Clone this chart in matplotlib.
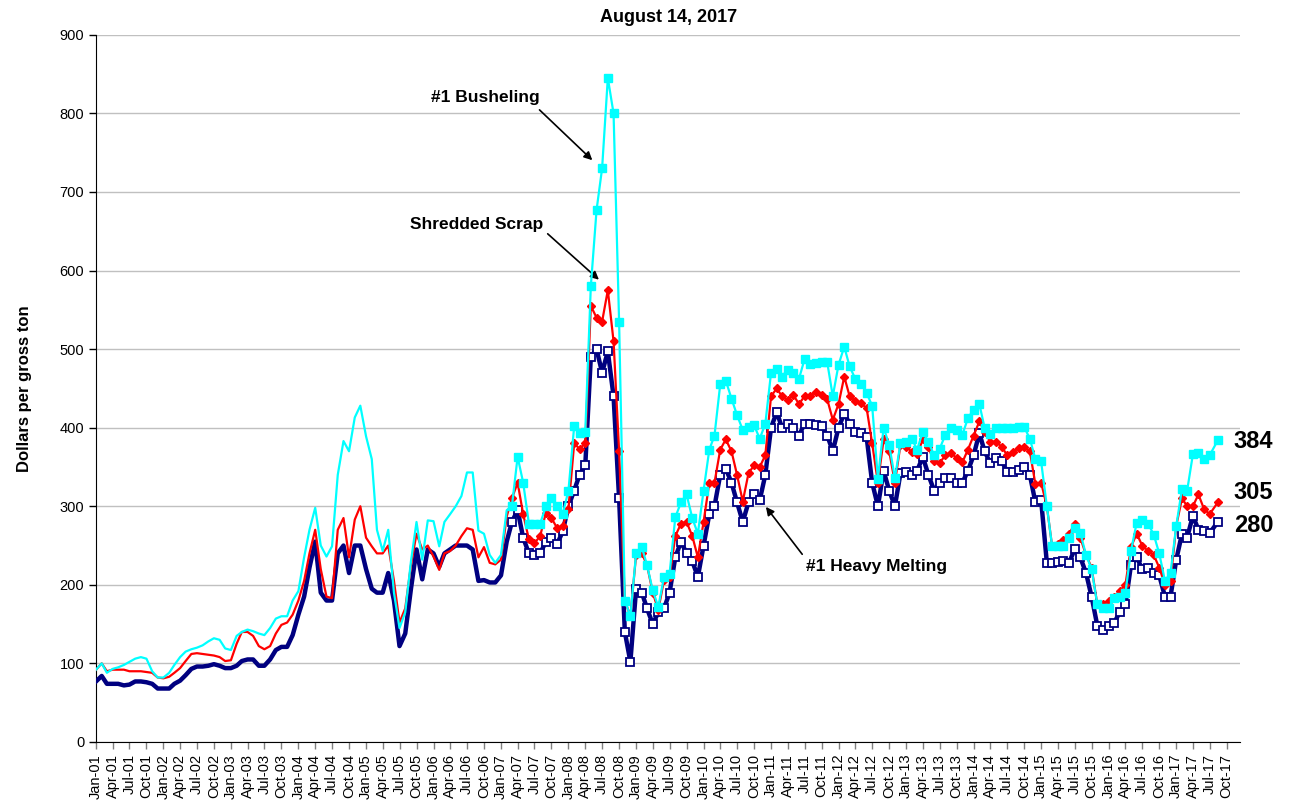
import numpy as np
import pandas as pd
import matplotlib
matplotlib.use('Agg')
from matplotlib import pyplot as plt
import matplotlib.dates as mdates

plt.rcParams['font.family'] = ['Liberation Sans', 'DejaVu Sans']

# monthly readings Jan-01 .. Jul-17, last point is the Aug 14, 2017 price
dates = list(pd.date_range('2001-01-01', '2017-07-01', freq='MS')) + [pd.Timestamp('2017-08-14')]

heavy_melting = [
    77, 84, 74, 74, 74, 72, 73, 77, 77, 76, 74, 68,
    68, 68, 74, 78, 85, 93, 96, 96, 97, 99, 97, 94,
    94, 97, 103, 105, 105, 97, 97, 105, 117, 121, 121, 136,
    162, 185, 222, 255, 190, 180, 180, 240, 250, 215, 250, 250,
    220, 195, 190, 190, 215, 180, 122, 138, 195, 245, 207, 245,
    240, 223, 240, 245, 250, 250, 250, 245, 205, 206, 203, 203,
    212, 255, 280, 295, 260, 240, 238, 240, 255, 260, 252, 268,
    300, 320, 340, 352, 490, 500, 470, 497, 440, 310, 140, 102,
    195, 190, 170, 150, 165, 170, 190, 235, 255, 240, 230, 210,
    250, 290, 300, 340, 348, 330, 305, 280, 305, 315, 308, 340,
    400, 420, 400, 405, 400, 390, 405, 405, 403, 402, 390, 370,
    400, 418, 405, 395, 393, 388, 330, 300, 345, 320, 300, 342,
    344, 340, 345, 363, 340, 320, 330, 336, 336, 330, 330, 345,
    365, 393, 370, 355, 362, 358, 344, 344, 346, 350, 340, 305,
    308, 228, 228, 229, 230, 228, 245, 235, 215, 185, 148, 142,
    148, 152, 165, 175, 225, 235, 220, 222, 215, 212, 185, 185,
    232, 265, 260, 288, 270, 268, 266, 280,
]

shredded = [
    92, 100, 90, 92, 92, 92, 90, 90, 90, 89, 88, 82,
    81, 83, 88, 94, 103, 112, 113, 112, 111, 110, 108, 103,
    104, 125, 140, 140, 135, 122, 118, 122, 138, 149, 152, 162,
    180, 205, 240, 270, 220, 185, 183, 270, 285, 235, 283, 300,
    260, 249, 240, 240, 250, 205, 152, 170, 225, 265, 245, 250,
    236, 219, 240, 243, 250, 262, 272, 270, 235, 248, 228, 226,
    232, 287, 310, 330, 290, 258, 253, 262, 292, 285, 272, 275,
    297, 380, 373, 380, 555, 540, 535, 575, 510, 370, 180, 160,
    238, 240, 225, 190, 168, 206, 210, 262, 278, 280, 262, 235,
    280, 330, 330, 372, 385, 370, 340, 306, 342, 352, 350, 365,
    440, 450, 440, 435, 442, 430, 440, 440, 446, 442, 436, 410,
    430, 465, 440, 434, 431, 425, 380, 330, 385, 370, 330, 378,
    376, 369, 366, 385, 375, 357, 355, 365, 368, 361, 356, 372,
    390, 408, 395, 382, 382, 376, 365, 369, 374, 375, 370, 328,
    330, 300, 250, 252, 257, 265, 277, 260, 238, 222, 175, 175,
    180, 185, 192, 200, 248, 265, 250, 243, 238, 222, 200, 205,
    275, 310, 300, 300, 315, 296, 290, 305,
]

busheling = [
    92, 100, 88, 93, 95, 98, 102, 106, 108, 106, 90, 82,
    82, 88, 98, 108, 115, 118, 120, 123, 128, 132, 130, 119,
    117, 135, 140, 143, 141, 138, 136, 145, 157, 160, 160, 180,
    192, 235, 270, 298, 250, 236, 249, 340, 383, 370, 413, 428,
    389, 360, 270, 243, 270, 190, 145, 165, 230, 280, 232, 282,
    281, 249, 280, 290, 300, 313, 343, 343, 269, 265, 238, 228,
    238, 295, 300, 363, 330, 278, 277, 278, 300, 310, 300, 290,
    320, 402, 393, 395, 580, 677, 730, 845, 800, 535, 180, 160,
    240, 248, 225, 193, 172, 210, 214, 286, 305, 315, 285, 265,
    320, 372, 390, 455, 460, 437, 416, 397, 401, 403, 386, 405,
    470, 475, 465, 474, 469, 462, 487, 481, 482, 484, 483, 440,
    480, 503, 478, 462, 456, 444, 428, 335, 400, 378, 336, 380,
    382, 386, 372, 395, 382, 365, 373, 391, 399, 397, 391, 412,
    423, 430, 400, 392, 399, 399, 399, 399, 401, 401, 386, 360,
    357, 300, 250, 250, 250, 260, 272, 266, 238, 220, 175, 170,
    171, 183, 185, 190, 243, 279, 282, 278, 264, 240, 205, 215,
    275, 322, 320, 366, 368, 360, 365, 384,
]

# markers only drawn from early 2007 on, like the weekly part of the source chart
marked = [d >= pd.Timestamp('2007-03-01') for d in dates]

fig = plt.figure(figsize=(12.9, 8.1), dpi=100)
ax = fig.add_axes([0.0744, 0.084, 0.887, 0.873])

ax.plot(dates, heavy_melting, color='#000080', lw=3.2, marker='s', ms=5.4,
        mfc='white', mec='#000080', mew=1.3, markevery=marked, zorder=3)
ax.plot(dates, shredded, color='#ff0000', lw=1.6, marker='D', ms=4.4,
        mfc='#ff0000', mec='#ff0000', markevery=marked, zorder=4)
ax.plot(dates, busheling, color='#00ffff', lw=1.6, marker='s', ms=6.4,
        mfc='#00ffff', mec='#00ffff', markevery=marked, zorder=5)

ax.set_ylim(0, 900)
ax.set_yticks(range(0, 901, 100))
ax.set_xlim(pd.Timestamp('2001-01-01'), pd.Timestamp('2017-12-13'))
ax.xaxis.set_major_locator(mdates.MonthLocator(bymonth=[1, 4, 7, 10]))
ax.xaxis.set_major_formatter(mdates.DateFormatter('%b-%y'))
plt.setp(ax.get_xticklabels(), rotation=90, fontsize=10.5)
plt.setp(ax.get_yticklabels(), fontsize=10.5)
ax.tick_params(axis='both', direction='out', length=5, width=1, color='#808080')
ax.tick_params(axis='y', color='black')

ax.grid(axis='y', color='#c0c0c0', lw=1)
ax.set_axisbelow(True)
for s in ['top', 'right']:
    ax.spines[s].set_visible(False)

ax.set_ylabel('Dollars per gross ton', fontsize=12, fontweight='bold', labelpad=20)
ax.set_title('August 14, 2017', fontsize=13, fontweight='bold', pad=9)

arrow = dict(arrowstyle='-|>', color='black', lw=1.2, mutation_scale=12)
ax.annotate('#1 Busheling', xy=(pd.Timestamp('2008-05-20'), 738),
            xytext=(pd.Timestamp('2006-10-10'), 820), ha='center', va='center',
            fontsize=12.5, fontweight='bold',
            arrowprops=dict(arrow, relpos=(0.95, 0.0)))
ax.annotate('Shredded Scrap', xy=(pd.Timestamp('2008-06-25'), 586),
            xytext=(pd.Timestamp('2006-08-20'), 658), ha='center', va='center',
            fontsize=12.5, fontweight='bold',
            arrowprops=dict(arrow, relpos=(1.0, 0.2)))
ax.annotate('#1 Heavy Melting', xy=(pd.Timestamp('2010-11-25'), 302),
            xytext=(pd.Timestamp('2012-07-25'), 223), ha='center', va='center',
            fontsize=12.5, fontweight='bold',
            arrowprops=dict(arrow, relpos=(0.0, 1.0)))

label_x = pd.Timestamp('2017-11-08')
ax.text(label_x, 382, str(busheling[-1]), fontsize=17, fontweight='bold', va='center', clip_on=False)
ax.text(label_x, 317, str(shredded[-1]), fontsize=17, fontweight='bold', va='center', clip_on=False)
ax.text(label_x, 276, str(heavy_melting[-1]), fontsize=17, fontweight='bold', va='center', clip_on=False)

fig.savefig('out.png', dpi=100)
